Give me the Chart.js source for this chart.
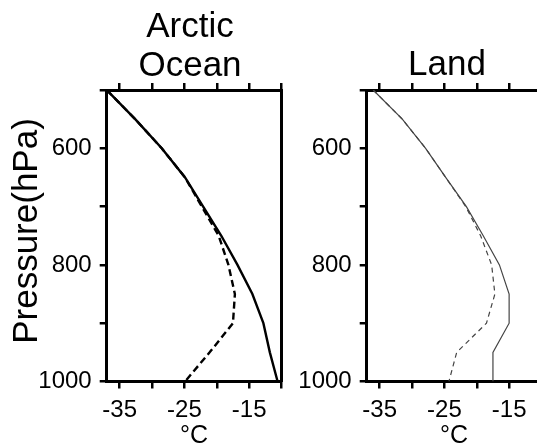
<!DOCTYPE html>
<html><head><meta charset="utf-8">
<script src="https://cdn.jsdelivr.net/npm/chart.js@4"></script>
<style>
html,body{margin:0;padding:0;background:#fff;overflow:hidden;width:537px;height:445px;}
#wrap{position:relative;width:537px;height:445px;overflow:hidden;background:#fff;}
canvas{position:absolute;top:0;}
</style></head><body>
<div id="wrap">
<canvas id="c1" width="290" height="445" style="left:0px"></canvas>
<canvas id="c2" width="290" height="445" style="left:260px"></canvas>
</div>
<script>
// ---- data (temperature in °C at each pressure level, hPa) ----
const pressure      = [500, 550, 600, 650, 700, 750, 800, 850, 900, 950, 1000];
const oceanSolid    = [-37.0, -32.6, -28.5, -24.9, -22.1, -19.3, -16.8, -14.5, -12.8, -11.8, -10.6];
const oceanDashed   = [-37.0, -32.6, -28.5, -24.9, -22.3, -19.7, -18.2, -17.2, -17.5, -21.1, -24.9];
const landSolid     = [-36.0, -31.5, -27.9, -24.8, -21.6, -19.0, -16.5, -15.0, -15.0, -17.5, -17.5];
const landDashed    = [-36.0, -31.5, -27.9, -24.8, -21.7, -19.4, -17.7, -17.2, -18.5, -23.1, -24.3];
const tempLabelValues     = [-35, -25, -15];
const pressureLabelValues = [600, 800, 1000];
const panelTitles = [['Arctic', 'Ocean'], ['Land']];
const xTitle = '°C';
const yTitle = 'Pressure(hPa)';

const FONT = '"Liberation Sans", Arial, Helvetica, sans-serif';
Chart.defaults.font.family = FONT;
Chart.defaults.font.size = 24;
Chart.defaults.color = '#000';

const toPts = arr => arr.map((t, i) => ({x: t, y: pressure[i]}));

const textPlugin = {
  id: 'panelText',
  afterDraw(chart, args, opts) {
    const ctx = chart.ctx;
    ctx.save();
    ctx.fillStyle = '#000';
    ctx.textAlign = 'center';
    ctx.textBaseline = 'alphabetic';
    ctx.font = '35px ' + FONT;
    opts.title.forEach((t, i) => ctx.fillText(t, opts.titleX, opts.titleBase[i]));
    ctx.font = '25px ' + FONT;
    ctx.fillText(xTitle, (chart.chartArea.left + chart.chartArea.right) / 2, 443);
    if (opts.showY) {
      ctx.translate(37, 231);
      ctx.rotate(-Math.PI / 2);
      ctx.font = '35px ' + FONT;
      ctx.fillText(yTitle, 0, 0);
    }
    ctx.restore();
  }
};

function makeChart(id, solid, dashed, style, textOpts) {
  const tickGrid = () => ({drawOnChartArea: false, drawTicks: true, tickLength: 7, color: '#000', lineWidth: 2.5});
  const border = () => ({display: true, color: '#000', width: 3});
  return new Chart(document.getElementById(id), {
    type: 'scatter',
    data: {
      datasets: [
        {label: 'solid', data: toPts(solid), showLine: true, borderColor: style.color,
         borderWidth: style.width, pointRadius: 0, tension: 0, fill: false},
        {label: 'dashed', data: toPts(dashed), showLine: true, borderColor: style.color,
         borderWidth: style.width, borderDash: style.dash, pointRadius: 0, tension: 0, fill: false}
      ]
    },
    options: {
      responsive: false,
      animation: false,
      layout: {padding: 0},
      plugins: {legend: {display: false}, tooltip: {enabled: false}, panelText: textOpts},
      scales: {
        x: {
          type: 'linear', position: 'bottom', min: -37, max: -10,
          ticks: {stepSize: 5, includeBounds: false, autoSkip: false, maxRotation: 0, padding: 7,
                  callback: v => tempLabelValues.includes(v) ? String(v) : ''},
          grid: tickGrid(), border: border(),
          afterFit: s => { s.height = 63.5; }
        },
        x2: {
          type: 'linear', position: 'top', min: -37, max: -10,
          ticks: {stepSize: 5, includeBounds: false, autoSkip: false, maxRotation: 0,
                  callback: () => ''},
          grid: tickGrid(), border: border(),
          afterFit: s => { s.height = 90; }
        },
        y: {
          type: 'linear', position: 'left', min: 500, max: 1000, reverse: true,
          ticks: {stepSize: 100, autoSkip: false, padding: 8,
                  callback: v => pressureLabelValues.includes(v) ? String(v) : ''},
          grid: tickGrid(), border: border(),
          afterFit: s => { s.width = 106.7; }
        },
        y2: {
          type: 'linear', position: 'right', min: 500, max: 1000, reverse: true,
          ticks: {display: false},
          grid: {display: false, drawTicks: false}, border: border(),
          afterFit: s => { s.width = 8.5; }
        }
      }
    },
    plugins: [textPlugin]
  });
}

makeChart('c1', oceanSolid, oceanDashed, {color: '#000', width: 2.4, dash: [7, 4]},
  {title: panelTitles[0], titleX: 190, titleBase: [37, 76], showY: true});
makeChart('c2', landSolid, landDashed, {color: '#444', width: 1.2, dash: [5, 4]},
  {title: panelTitles[1], titleX: 187, titleBase: [75], showY: false});
</script>
</body></html>
